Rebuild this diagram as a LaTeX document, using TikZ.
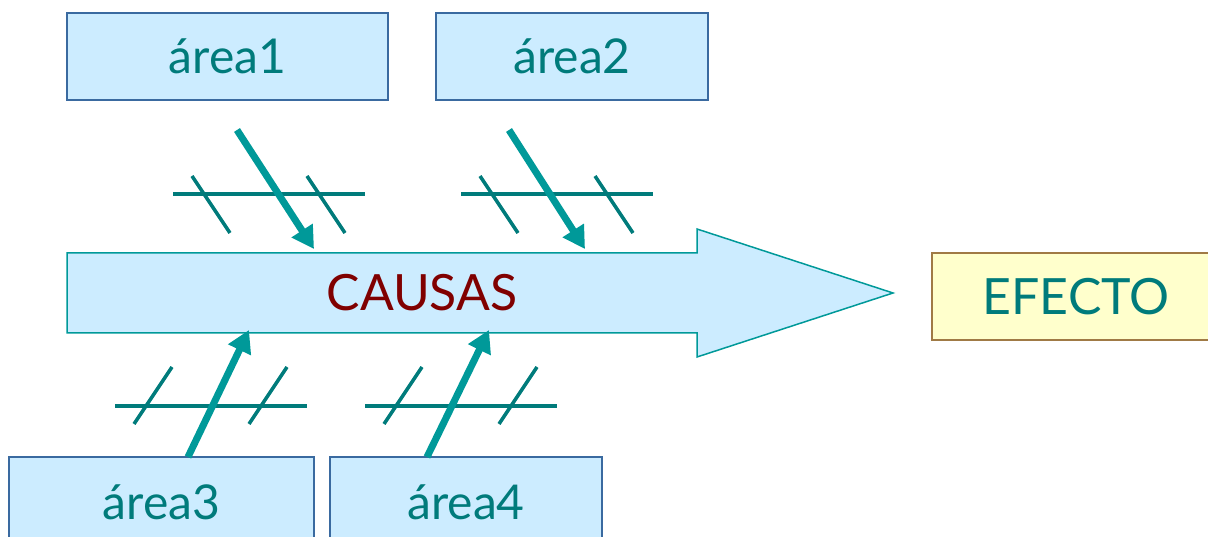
\documentclass[tikz,border=0pt]{standalone}
\usepackage{fontspec}
\setmainfont{Lato}
\usepackage{tikz}
\usetikzlibrary{arrows.meta, positioning, calc}
\definecolor{hellblau}{HTML}{CCECFF}
\definecolor{rahmenblau}{HTML}{3A6AA0}
\definecolor{petrol}{HTML}{009999}
\definecolor{petroldunkel}{HTML}{007B7B}
\definecolor{hellgelb}{HTML}{FFFFCC}
\definecolor{braun}{HTML}{A07A45}
\definecolor{dunkelrot}{HTML}{800000}
\tikzset{>=Latex}

\begin{document}
\begin{tikzpicture}[x=1pt, y=-1pt,
   bereich/.style={draw=rahmenblau, line width=1.5pt, fill=hellblau,
      text=petroldunkel, inner sep=0pt, font=\fontsize{48}{56}\selectfont},
   graete/.style={draw=petroldunkel, line width=3.5pt},
   pfeil/.style={draw=petrol, line width=7pt,
      -{Triangle[length=22pt, width=24pt]}}]

   % Rahmen des Bildes
   \useasboundingbox (0,0) rectangle (1208,537);

   % grosser Pfeil (Hauptgraete)
   \draw[draw=petrol, line width=1.5pt, fill=hellblau]
      (67,253) -- (697,253) -- (697,229) -- (893,293)
      -- (697,357) -- (697,333) -- (67,333) -- cycle;
   \node[text=dunkelrot, font=\fontsize{50}{58}\selectfont] (causas) at (422,293) {CAUSAS};

   % Kaesten oben
   \node[bereich, minimum width=321pt, minimum height=87pt] (a1) at (227.5,56.5) {área1};
   \node[bereich, minimum width=272pt, minimum height=87pt] (a2) at (572,56.5) {área2};

   % Kaesten unten (vom Rand abgeschnitten)
   \node[bereich, minimum width=305pt, minimum height=90pt] (a3) at (161.5,502) {área3};
   \node[bereich, minimum width=272pt, minimum height=90pt] (a4) at (466,502) {área4};

   % Wirkung rechts
   \node[bereich, draw=braun, fill=hellgelb, minimum width=288pt, minimum height=87pt,
      font=\fontsize{50}{58}\selectfont] (efecto) at (1076,296.5) {EFECTO};

   % Nebengraeten: Mitte x/y, Richtung s (1 oben, -1 unten)
   \foreach \mx/\my/\s in {269/194/1, 557/194/1, 211/406/-1, 461/406/-1} {
      \begin{scope}[shift={(\mx,\my)}, yscale=\s]
         \draw[graete] (-96,0) -- (96,0);
         \draw[graete] (-77,-18) -- (-39,39);
         \draw[graete] (38,-18) -- (76,39);
      \end{scope}
   }

   % Anfang und Ende der Pfeile
   \coordinate (p1a) at (237,130);
   \coordinate (p1b) at (314,249);
   \coordinate (p2a) at (509,130);
   \coordinate (p2b) at (585,249);
   \coordinate (p3a) at (188,457);
   \coordinate (p3b) at (249,330);
   \coordinate (p4a) at (427,457);
   \coordinate (p4b) at (489,330);

   % Pfeile zur Hauptgraete
   \draw[pfeil] (p1a) -- (p1b);
   \draw[pfeil] (p2a) -- (p2b);
   \draw[pfeil] (p3a) -- (p3b);
   \draw[pfeil] (p4a) -- (p4b);

\end{tikzpicture}
\end{document}
